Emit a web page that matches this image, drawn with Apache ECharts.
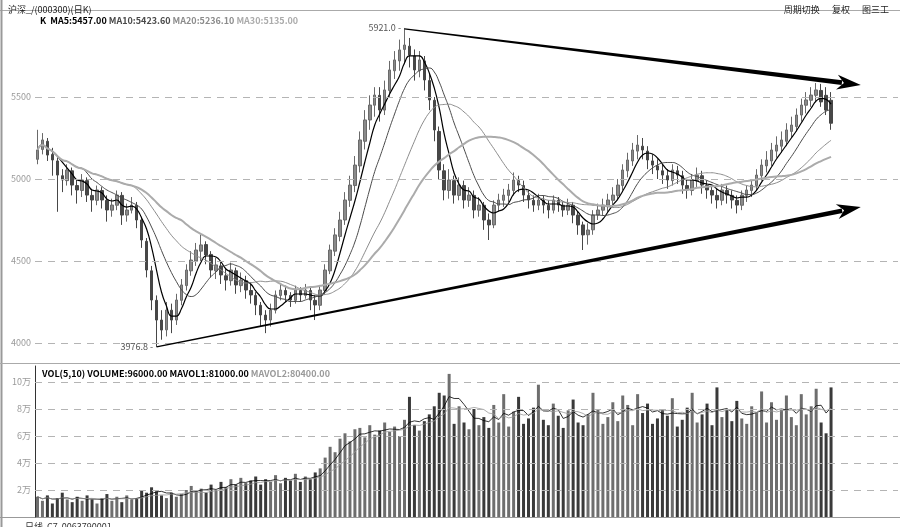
<!DOCTYPE html>
<html><head><meta charset="utf-8">
<script src="https://cdn.jsdelivr.net/npm/echarts@6/dist/echarts.min.js"></script>
<style>html,body{margin:0;padding:0;background:#fff}#c{width:900px;height:527px}</style>
</head><body><div id="c"></div>
<script>
// ---- data ----
const opens = [5120,5180,5230,5150,5110,5020,4990,5050,4960,4930,4990,4900,4870,4930,4870,4810,4840,4900,4780,4810,
4840,4750,4620,4440,4260,4140,4080,4200,4140,4260,4350,4440,4500,4560,4600,4540,4440,4470,4410,4380,
4440,4350,4380,4320,4290,4230,4170,4140,4200,4290,4320,4290,4260,4320,4290,4320,4260,4230,4320,4440,
4560,4650,4750,4870,4960,5080,5230,5360,5450,5510,5420,5540,5660,5720,5790,5810,5750,5660,5720,5600,
5480,5290,5050,4930,4990,4900,4960,4870,4900,4810,4840,4750,4720,4840,4870,4900,4930,4990,4960,4900,
4870,4840,4870,4840,4810,4870,4840,4810,4840,4780,4720,4660,4690,4780,4810,4840,4870,4900,4960,5050,
5110,5170,5200,5170,5110,5080,5050,5020,4990,5050,5020,4960,4930,4990,5020,4960,4930,4900,4870,4930,
4900,4870,4840,4900,4930,4960,5020,5080,5110,5170,5200,5230,5290,5320,5390,5450,5480,5510,5540,5510,5480];
const closes = [5177,5238,5146,5116,5024,4994,5055,4963,4933,4994,4902,4872,4933,4872,4811,4841,4902,4780,4811,4841,
4750,4628,4445,4262,4140,4079,4201,4140,4262,4354,4445,4506,4567,4598,4537,4445,4476,4415,4384,4445,
4354,4384,4323,4293,4232,4171,4140,4201,4293,4323,4293,4262,4323,4293,4323,4262,4232,4323,4445,4567,
4659,4750,4872,4963,5085,5238,5360,5451,5512,5421,5543,5665,5726,5787,5817,5756,5665,5726,5604,5482,
5299,5055,4933,4994,4902,4963,4872,4902,4811,4841,4750,4720,4841,4872,4902,4933,4994,4963,4902,4872,
4841,4872,4841,4811,4872,4841,4811,4841,4780,4720,4659,4689,4780,4811,4841,4872,4902,4963,5055,5116,
5177,5207,5177,5116,5085,5055,5024,4994,5055,5024,4963,4933,4994,5024,4963,4933,4902,4872,4933,4902,
4872,4841,4902,4933,4963,5024,5085,5116,5177,5207,5238,5299,5329,5390,5451,5482,5512,5543,5470,5420,5340];
const lows = [5090,5150,5110,5020,4800,4920,4960,4900,4850,4890,4860,4800,4840,4820,4740,4770,4810,4720,4740,4790,
4700,4580,4400,4200,3976.8,4020,4040,4060,4110,4230,4320,4410,4470,4500,4480,4400,4390,4360,4320,4350,
4300,4310,4270,4240,4170,4100,4060,4100,4180,4260,4250,4220,4240,4250,4270,4200,4140,4200,4300,4420,
4530,4620,4720,4830,4920,5040,5180,5300,5380,5350,5390,5500,5610,5660,5700,5680,5600,5620,5540,5420,
5230,5000,4870,4880,4850,4870,4820,4830,4760,4770,4690,4628,4700,4800,4830,4860,4900,4920,4860,4820,
4800,4810,4790,4760,4790,4800,4770,4780,4730,4660,4567,4600,4660,4750,4780,4800,4830,4870,4930,5010,
5080,5120,5120,5060,5030,5000,4970,4940,4960,4970,4910,4880,4900,4950,4910,4880,4850,4820,4840,4850,
4820,4790,4810,4860,4890,4930,4990,5040,5080,5130,5160,5200,5250,5290,5350,5400,5440,5470,5440,5390,5300];
const highs = [5300,5280,5250,5190,5130,5060,5090,5070,5000,5030,5010,4940,4960,4950,4900,4880,4930,4920,4850,4890,
4860,4770,4640,4470,4290,4200,4250,4240,4300,4390,4480,4560,4610,4660,4620,4560,4520,4500,4450,4490,
4460,4430,4410,4370,4310,4250,4200,4240,4320,4360,4350,4310,4350,4340,4360,4340,4290,4350,4480,4600,
4700,4800,4920,5020,5140,5290,5420,5510,5560,5560,5600,5720,5780,5850,5921,5860,5790,5780,5750,5640,
5500,5320,5090,5060,5020,5010,4990,4950,4930,4890,4860,4790,4870,4910,4940,4970,5040,5020,4990,4930,
4900,4910,4900,4870,4900,4890,4860,4880,4860,4800,4740,4730,4810,4850,4880,4910,4950,5000,5090,5160,
5220,5268,5250,5200,5150,5120,5090,5060,5090,5080,5050,5000,5030,5070,5050,4990,4960,4940,4970,4960,
4930,4900,4930,4960,5000,5060,5120,5170,5220,5260,5290,5340,5380,5430,5490,5530,5560,5585,5580,5560,5530];
// volume in units of 10k (万)
const volumes = [1.5,1.2,1.6,1.0,1.4,1.8,1.3,1.1,1.5,1.2,1.6,1.3,1.0,1.4,1.7,1.2,1.5,1.1,1.6,1.3,
1.4,2.0,1.8,2.2,1.9,1.6,1.4,1.8,1.5,1.7,2.0,2.3,1.9,2.1,1.8,2.4,2.0,2.6,2.2,2.8,
2.4,2.9,2.5,2.7,3.0,2.4,2.8,2.6,3.1,2.5,2.9,2.7,3.2,2.6,3.0,2.8,3.3,3.6,4.4,5.2,
4.8,5.8,6.2,5.6,6.5,6.6,5.9,6.8,6.1,6.4,7.0,6.3,6.7,6.0,7.2,8.9,6.8,6.4,7.1,7.6,
8.2,9.2,9.0,10.6,6.9,8.2,7.0,6.5,8.0,6.8,7.4,6.6,8.3,7.0,9.1,6.7,7.8,8.9,6.9,7.3,
8.1,9.8,7.2,6.8,8.4,7.5,6.6,7.9,8.7,7.0,6.8,7.6,9.2,8.0,6.9,7.4,8.5,7.1,9.0,8.3,
6.8,9.1,7.7,8.4,6.9,7.3,8.0,7.5,8.8,6.7,7.2,8.1,9.2,7.0,7.6,8.4,6.8,9.6,7.4,8.0,
7.1,8.6,7.3,6.9,8.2,7.7,9.3,7.0,8.5,7.2,8.0,9.0,7.4,6.8,9.1,7.6,8.2,9.5,7.0,6.2,9.6];
const priceTicks = [4000, 4500, 5000, 5500];
const volTicks = [2, 4, 6, 8, 10];
const volTickLabels = ['2万', '4万', '6万', '8万', '10万'];
const emptySlots = 13;
// trend lines: [startIndex, startValue, endIndex, endValue]
const trendLines = [[24.2, 3976.8, 166.2, 4829], [74, 5915, 166.2, 5573]];
const maPeriods = [5, 10, 20, 30];
const maColors = ['#000000', '#4a4a4a', '#8c8c8c', '#ababab'];
const maWidths = [1.2, 1, 1, 2];

// ---- build ----
const n = closes.length;
const categories = [];
for (let i = 0; i < n + emptySlots; i++) categories.push(String(i + 1));
const ohlc = closes.map((c, i) => [opens[i], c, lows[i], highs[i]]);
function ma(arr, p) {
  return arr.map((_, i) => {
    const s = Math.max(0, i - p + 1);
    let sum = 0; for (let k = s; k <= i; k++) sum += arr[k];
    return +(sum / (i - s + 1)).toFixed(2);
  });
}
const maSeries = maPeriods.map(p => ma(closes, p));
const volMa5 = ma(volumes, 5), volMa10 = ma(volumes, 10);
const volBars = volumes.map((v, i) => ({ value: v, itemStyle: { color: closes[i] >= opens[i] ? '#6e6e6e' : '#3a3a3a' } }));

const font = '"Noto Sans CJK SC", "DejaVu Sans", sans-serif';
const last = n - 1;
const legendRich = {
  k: { color: '#000', fontSize: 9, fontFamily: font },
  m0: { color: maColors[0], fontSize: 9, fontFamily: font },
  m1: { color: maColors[1], fontSize: 9, fontFamily: font },
  m2: { color: maColors[2], fontSize: 9, fontFamily: font },
  m3: { color: maColors[3], fontSize: 9, fontFamily: font }
};
const legendText = '{k|K  }' + maPeriods.map((p, j) => `{m${j}|MA${p}:${maSeries[j][last].toFixed(2)} }`).join('');
const volLegend = `{k|VOL(5,10) VOLUME:${(volumes[last] * 10000).toFixed(2)} MAVOL1:${(volMa5[last] * 10000).toFixed(2)} }{g|MAVOL2:${(volMa10[last] * 10000).toFixed(2)}}`;

function renderTrend(params, api) {
  const p1 = api.coord([api.value(0), api.value(1)]);
  const p2 = api.coord([api.value(2), api.value(3)]);
  const dx = p2[0] - p1[0], dy = p2[1] - p1[1], L = Math.hypot(dx, dy);
  const ux = dx / L, uy = dy / L, nx = -uy, ny = ux;
  const headLen = 22, headW = 7.5, w0 = 0.6, w1 = 2.4;
  const b = [p2[0] - ux * headLen, p2[1] - uy * headLen];
  const shaft = [[p1[0] + nx * w0, p1[1] + ny * w0], [b[0] + ux * 3 + nx * w1, b[1] + uy * 3 + ny * w1],
                 [b[0] + ux * 3 - nx * w1, b[1] + uy * 3 - ny * w1], [p1[0] - nx * w0, p1[1] - ny * w0]];
  const head = [[p2[0], p2[1]], [b[0] + nx * headW - ux * 2, b[1] + ny * headW - uy * 2],
                [b[0] + ux * 5, b[1] + uy * 5], [b[0] - nx * headW - ux * 2, b[1] - ny * headW - uy * 2]];
  return { type: 'group', children: [
    { type: 'polygon', shape: { points: shaft }, style: { fill: '#000' } },
    { type: 'polygon', shape: { points: head }, style: { fill: '#000' } }
  ] };
}

const chart = echarts.init(document.getElementById('c'));
const dashed = { color: '#b4b4b4', width: 1, type: [7, 6] };
chart.setOption({
  animation: false,
  backgroundColor: '#fff',
  textStyle: { fontFamily: font },
  title: [
    { text: '沪深_/(000300)(日K)', left: 3, top: 0, textStyle: { fontSize: 9, fontWeight: 'normal', color: '#222' } },
    { text: '周期切换      复权      图三工', right: 6, top: 0, textStyle: { fontSize: 9, fontWeight: 'normal', color: '#222' } },
    { text: legendText, left: 35, top: 11, textStyle: { rich: legendRich } },
    { text: volLegend, left: 37, top: 364, textStyle: { rich: { k: { color: '#000', fontSize: 9 }, g: { color: '#999', fontSize: 9 } } } },
    { text: '日线  C7  0063790001', left: 20, top: 517, textStyle: { fontSize: 9, fontWeight: 'normal', color: '#333' } }
  ],
  graphic: [
    { type: 'line', shape: { x1: 0, y1: 10.5, x2: 900, y2: 10.5 }, style: { stroke: '#aaa', lineWidth: 1 } },
    { type: 'line', shape: { x1: 1.5, y1: 0, x2: 1.5, y2: 527 }, style: { stroke: '#999', lineWidth: 2 } },
    { type: 'line', shape: { x1: 0, y1: 363.5, x2: 900, y2: 363.5 }, style: { stroke: '#aaa', lineWidth: 1 } },
    { type: 'line', shape: { x1: 0, y1: 517.5, x2: 900, y2: 517.5 }, style: { stroke: '#999', lineWidth: 1 } }
  ],
  grid: [
    { left: 35, right: 2, top: 12, height: 348 },
    { left: 35, right: 2, top: 366, height: 151 }
  ],
  xAxis: [
    { type: 'category', data: categories, gridIndex: 0, boundaryGap: true, axisLine: { show: false }, axisTick: { show: false }, axisLabel: { show: false }, splitLine: { show: false } },
    { type: 'category', data: categories, gridIndex: 1, boundaryGap: true, axisLine: { show: false }, axisTick: { show: false }, axisLabel: { show: false }, splitLine: { show: false } }
  ],
  yAxis: [
    { type: 'value', gridIndex: 0, min: 3896.3, max: 6018.3, axisLine: { show: false }, axisTick: { show: false }, axisLabel: { show: false }, splitLine: { show: false } },
    { type: 'value', gridIndex: 1, min: 0, max: 151 / 13.5, axisLine: { show: true, lineStyle: { color: '#333' } }, axisTick: { show: false }, axisLabel: { show: false }, splitLine: { show: false } }
  ],
  series: [
    {
      type: 'candlestick', name: 'K', xAxisIndex: 0, yAxisIndex: 0, data: ohlc, barWidth: 3,
      itemStyle: { color: '#8a8a8a', color0: '#474747', borderColor: '#6a6a6a', borderColor0: '#474747', borderWidth: 1 },
      markLine: {
        silent: true, symbol: ['none', 'none'], animation: false, lineStyle: dashed,
        label: { position: 'start', distance: 4, color: '#9a9a9a', fontSize: 9, formatter: p => String(p.value) },
        data: priceTicks.map(v => ({ yAxis: v }))
      },
      markPoint: {
        symbol: 'circle', symbolSize: 1, itemStyle: { color: 'rgba(0,0,0,0)' }, animation: false,
        label: { show: true, position: 'left', distance: 3, color: '#555', fontSize: 9, formatter: p => p.value.toFixed(1) + ' -' },
        data: [{ type: 'max', valueDim: 'highest' }, { type: 'min', valueDim: 'lowest' }]
      }
    },
    ...maPeriods.map((p, j) => ({
      type: 'line', name: 'MA' + p, xAxisIndex: 0, yAxisIndex: 0, data: maSeries[j], showSymbol: false, smooth: true,
      lineStyle: { color: maColors[j], width: maWidths[j] }, z: 3
    })),
    {
      type: 'custom', xAxisIndex: 0, yAxisIndex: 0, renderItem: renderTrend, data: trendLines,
      encode: { x: [0, 2], y: [1, 3] }, clip: false, z: 10, silent: true
    },
    {
      type: 'bar', name: 'VOL', xAxisIndex: 1, yAxisIndex: 1, data: volBars, barWidth: 3,
      markLine: {
        silent: true, symbol: ['none', 'none'], animation: false, lineStyle: dashed,
        label: { position: 'start', distance: 4, color: '#9a9a9a', fontSize: 9, formatter: p => volTickLabels[volTicks.indexOf(p.value)] },
        data: volTicks.map(v => ({ yAxis: v }))
      }
    },
    { type: 'line', xAxisIndex: 1, yAxisIndex: 1, data: volMa5, showSymbol: false, lineStyle: { color: '#000', width: 0.8 }, z: 3 },
    { type: 'line', xAxisIndex: 1, yAxisIndex: 1, data: volMa10, showSymbol: false, lineStyle: { color: '#999', width: 0.8 }, z: 3 }
  ]
});
</script>
</body></html>
